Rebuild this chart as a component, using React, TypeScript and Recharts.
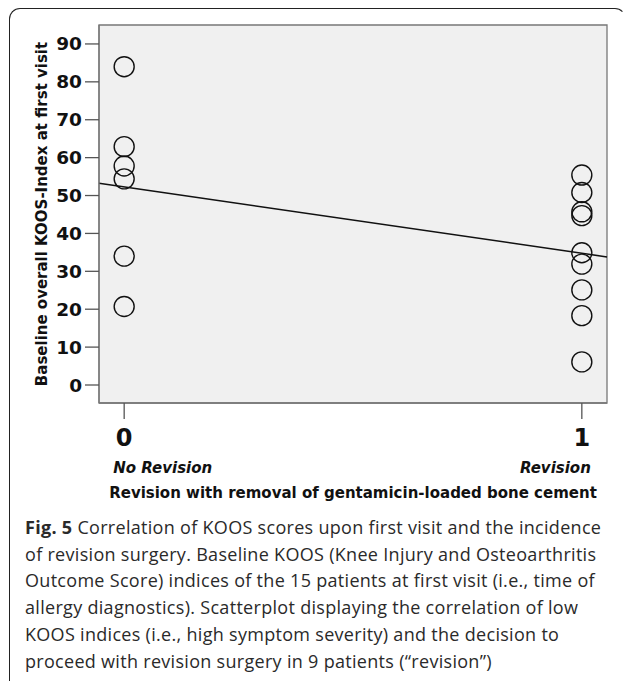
import React from 'react';
import { ScatterChart, Scatter, XAxis, YAxis, CartesianGrid, ReferenceLine, ReferenceArea } from 'recharts';

// ---- data ----
const groups = [0, 1];
const groupLabels = ['No Revision', 'Revision'];
const noRevisionKoos = [84.0, 62.9, 57.8, 54.4, 34.0, 20.7];
const revisionKoos = [55.4, 50.8, 45.7, 44.7, 34.9, 31.9, 25.1, 18.3, 6.1];
const yTicks = [0, 10, 20, 30, 40, 50, 60, 70, 80, 90];
const xDomain = [-0.055, 1.055];
const yDomain = [-4.75, 95];
const xTitle = 'Revision with removal of gentamicin-loaded bone cement';
const yTitle = 'Baseline overall KOOS-Index at first visit';
const captionBold = 'Fig. 5';
const captionLines = [
  ' Correlation of KOOS scores upon first visit and the incidence',
  'of revision surgery. Baseline KOOS (Knee Injury and Osteoarthritis',
  'Outcome Score) indices of the 15 patients at first visit (i.e., time of',
  'allergy diagnostics). Scatterplot displaying the correlation of low',
  'KOOS indices (i.e., high symptom severity) and the decision to',
  'proceed with revision surgery in 9 patients (\u201crevision\u201d)',
];

const points = [
  ...noRevisionKoos.map((y) => ({ x: groups[0], y })),
  ...revisionKoos.map((y) => ({ x: groups[1], y })),
];

// least-squares fit line
const n = points.length;
const mx = points.reduce((s, p) => s + p.x, 0) / n;
const my = points.reduce((s, p) => s + p.y, 0) / n;
const slope =
  points.reduce((s, p) => s + (p.x - mx) * (p.y - my), 0) /
  points.reduce((s, p) => s + (p.x - mx) * (p.x - mx), 0);
const intercept = my - slope * mx;
const fitSegment = [
  { x: xDomain[0], y: intercept + slope * xDomain[0] },
  { x: xDomain[1], y: intercept + slope * xDomain[1] },
];

const FONT = '"DejaVu Sans", Verdana, sans-serif';

const Ring = (props: any) => {
  const { cx, cy } = props;
  if (cx == null || cy == null) return null;
  return <circle cx={cx} cy={cy} r={10} fill="none" stroke="#111" strokeWidth={1.4} />;
};

const XTick = (props: any) => {
  const { x, y, payload } = props;
  const v = payload.value;
  const idx = groups.indexOf(v);
  const first = idx === 0;
  return (
    <g>
      <text x={x} y={y + 24.5} textAnchor="middle" fontFamily={FONT} fontWeight="bold" fontSize={24} fill="#111">
        {v}
      </text>
      <text
        x={first ? x - 11 : x + 9}
        y={y + 51.5}
        textAnchor={first ? 'start' : 'end'}
        fontFamily={FONT}
        fontWeight="bold"
        fontStyle="italic"
        fontSize={15}
        fill="#111"
      >
        {groupLabels[idx]}
      </text>
    </g>
  );
};

const YTick = (props: any) => {
  const { x, y, payload } = props;
  return (
    <text x={x} y={y} dy={6.5} textAnchor="end" fontFamily={FONT} fontWeight="bold" fontSize={18.5} fill="#111">
      {payload.value}
    </text>
  );
};

const YTitle = (props: any) => {
  const { viewBox } = props;
  const cx = viewBox.x + 42;
  const cy = viewBox.y + viewBox.height / 2;
  return (
    <text
      x={cx}
      y={cy}
      transform={`rotate(-90 ${cx} ${cy})`}
      textAnchor="middle"
      dominantBaseline="central"
      fontFamily={FONT}
      fontWeight="bold"
      fontSize={15}
      fill="#111"
    >
      {yTitle}
    </text>
  );
};

const XTitle = (props: any) => {
  const { viewBox } = props;
  const cx = viewBox.x + viewBox.width / 2;
  const y = viewBox.y + 95;
  return (
    <text x={cx} y={y} textAnchor="middle" fontFamily={FONT} fontWeight="bold" fontSize={15} fill="#111">
      {xTitle}
    </text>
  );
};

export default function App() {
  return (
    <div style={{ position: 'absolute', left: 0, top: 0, width: 627, height: 681, overflow: 'hidden', background: '#fff' }}>
      <div
        style={{
          position: 'absolute',
          left: 9,
          top: 8,
          width: 617,
          height: 700,
          boxSizing: 'border-box',
          borderTop: '1.6px solid #222',
          borderLeft: '1.6px solid #222',
          borderRight: '1.6px solid transparent',
          borderRadius: 11,
        }}
      />
      <div style={{ position: 'absolute', left: 0, top: 0 }}>
        <ScatterChart width={627} height={510} margin={{ top: 25, right: 20, bottom: 7, left: 0 }}>
          <CartesianGrid fill="#f0f0f0" horizontal={false} vertical={false} />
          <XAxis
            type="number"
            dataKey="x"
            domain={xDomain}
            ticks={groups}
            allowDataOverflow
            height={100}
            tickSize={16}
            tickMargin={2}
            axisLine={{ stroke: '#777', strokeWidth: 1.3 }}
            tickLine={{ stroke: '#555', strokeWidth: 1.3 }}
            tick={<XTick />}
            label={<XTitle />}
          />
          <YAxis
            type="number"
            dataKey="y"
            domain={yDomain}
            ticks={yTicks}
            allowDataOverflow
            width={99}
            tickSize={14}
            tickMargin={3}
            axisLine={{ stroke: '#777', strokeWidth: 1.3 }}
            tickLine={{ stroke: '#555', strokeWidth: 1.3 }}
            tick={<YTick />}
            label={<YTitle />}
          />
          <ReferenceArea
            x1={xDomain[0]}
            x2={xDomain[1]}
            y1={yDomain[0]}
            y2={yDomain[1]}
            fill="none"
            fillOpacity={0}
            stroke="#777"
            strokeWidth={1.3}
            ifOverflow="visible"
          />
          <ReferenceLine segment={fitSegment} stroke="#111" strokeWidth={1.5} ifOverflow="visible" />
          <Scatter data={points} shape={<Ring />} isAnimationActive={false} />
        </ScatterChart>
      </div>
      <div
        style={{
          position: 'absolute',
          left: 25,
          top: 514,
          fontFamily: '"Open Sans", sans-serif',
          fontSize: 18,
          letterSpacing: '0.3px',
          lineHeight: '26.7px',
          color: '#2a2a2a',
          whiteSpace: 'nowrap',
        }}
      >
        {captionLines.map((line, i) => (
          <div key={i}>
            {i === 0 && <b style={{ fontWeight: 700 }}>{captionBold}</b>}
            {line}
          </div>
        ))}
      </div>
    </div>
  );
}
